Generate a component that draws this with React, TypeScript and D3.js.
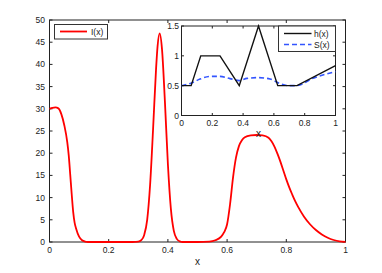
import React from "react";
import * as d3 from "d3";

// Main curve I(x)
const iX = [0, 0.01, 0.02, 0.03, 0.04, 0.05, 0.06, 0.065, 0.07, 0.075, 0.08, 0.085, 0.09, 0.1, 0.11, 0.12, 0.13, 0.2, 0.28,
  0.29, 0.3, 0.31, 0.32, 0.33, 0.34, 0.35, 0.36, 0.365, 0.372, 0.38, 0.39, 0.4, 0.41, 0.42, 0.43, 0.44, 0.45, 0.5,
  0.54, 0.56, 0.58, 0.59, 0.6, 0.61, 0.62, 0.63, 0.64, 0.65, 0.66, 0.68, 0.7, 0.72, 0.74, 0.75, 0.76, 0.77, 0.78, 0.79,
  0.8, 0.81, 0.82, 0.83, 0.84, 0.86, 0.88, 0.9, 0.92, 0.94, 0.96, 0.98, 1.0];
const iY = [30.0, 30.2, 30.3, 30.1, 28.8, 26.3, 22.5, 19.5, 15.2, 10.8, 6.8, 4.3, 3.0, 1.2, 0.4, 0.1, 0, 0, 0,
  0.02, 0.07, 0.4, 1.6, 5, 13, 25.5, 39, 44, 47, 43.5, 31.5, 17.5, 7.5, 2.5, 0.7, 0.15, 0, 0,
  0.1, 0.4, 1.2, 2.2, 4.0, 8.5, 14.5, 19.0, 21.6, 22.9, 23.6, 24.0, 24.1, 24.0, 23.5, 22.7, 21.5, 19.9, 18.1, 16.1,
  14.1, 12.3, 10.7, 9.2, 7.9, 5.7, 4.0, 2.7, 1.7, 0.95, 0.45, 0.15, 0.05];

// Inset h(x)
const hX = [0, 0.0625, 0.125, 0.25, 0.375, 0.5, 0.625, 0.75, 1];
const hY = [0.5, 0.5, 1, 1, 0.5, 1.5, 0.5, 0.5, 0.835];

// Inset S(x)
const sX = [0, 0.065, 0.12, 0.185, 0.25, 0.315, 0.375, 0.425, 0.5, 0.575, 0.64, 0.695, 0.745, 0.86, 1];
const sY = [0.5, 0.545, 0.61, 0.655, 0.655, 0.618, 0.585, 0.622, 0.635, 0.612, 0.535, 0.5, 0.5, 0.63, 0.735];

const mainXTicks = [0, 0.2, 0.4, 0.6, 0.8, 1];
const mainYTicks = [0, 5, 10, 15, 20, 25, 30, 35, 40, 45, 50];
const insetXTicks = [0, 0.2, 0.4, 0.6, 0.8, 1];
const insetYTicks = [0, 0.5, 1, 1.5];

const FONT = "Liberation Sans, Arial, Helvetica, sans-serif";

export default function App() {
  const W = 382, H = 273;
  const x = d3.scaleLinear().domain([0, 1]).range([49.5, 345.5]);
  const y = d3.scaleLinear().domain([0, 50]).range([242, 20]);
  const ix = d3.scaleLinear().domain([0, 1]).range([181.5, 335.5]);
  const iy = d3.scaleLinear().domain([0, 1.5]).range([115.5, 26]);

  const lineI = d3.line<number>().x((_, k) => x(iX[k])).y((d) => y(d)).curve(d3.curveMonotoneX);
  const lineH = d3.line<number>().x((_, k) => ix(hX[k])).y((d) => iy(d));
  const lineS = d3.line<number>().x((_, k) => ix(sX[k])).y((d) => iy(d)).curve(d3.curveMonotoneX);

  const tk = 3;
  const itk = 2.5;
  return (
    <svg width={W} height={H} style={{ position: "absolute", left: 0, top: 0 }} fontFamily={FONT}>
      <rect x={0} y={0} width={W} height={H} fill="#fff" />
      {/* main axes */}
      <rect x={49.5} y={20} width={296} height={222} fill="#fff" stroke="#222" strokeWidth={1} />
      {mainXTicks.map((t) => (
        <g key={"mx" + t}>
          <line x1={x(t)} x2={x(t)} y1={242} y2={242 - tk} stroke="#222" />
          <line x1={x(t)} x2={x(t)} y1={20} y2={20 + tk} stroke="#222" />
          <text x={x(t)} y={253} fontSize={8.5} textAnchor="middle" fill="#222">{String(t)}</text>
        </g>
      ))}
      {mainYTicks.map((t) => (
        <g key={"my" + t}>
          <line x1={49.5} x2={49.5 + tk} y1={y(t)} y2={y(t)} stroke="#222" />
          <line x1={345.5} x2={345.5 - tk} y1={y(t)} y2={y(t)} stroke="#222" />
          <text x={45} y={y(t) + 3} fontSize={8.5} textAnchor="end" fill="#222">{String(t)}</text>
        </g>
      ))}
      <text x={197.5} y={265} fontSize={10} textAnchor="middle" fill="#222">x</text>
      <path d={lineI(iY) || ""} fill="none" stroke="#ff0000" strokeWidth={1.8} />

      {/* main legend */}
      <rect x={54.5} y={24.5} width={53} height={14.5} fill="#fff" stroke="#333" strokeWidth={1} />
      <line x1={60} x2={87} y1={31.5} y2={31.5} stroke="#ff0000" strokeWidth={1.8} />
      <text x={91} y={35} fontSize={8.5} fill="#222">I(x)</text>

      {/* inset axes */}
      <rect x={181.5} y={26} width={154} height={89.5} fill="#fff" stroke="#222" strokeWidth={1} />
      {insetXTicks.map((t) => (
        <g key={"ix" + t}>
          <line x1={ix(t)} x2={ix(t)} y1={115.5} y2={115.5 - itk} stroke="#222" />
          <line x1={ix(t)} x2={ix(t)} y1={26} y2={26 + itk} stroke="#222" />
          <text x={ix(t)} y={126} fontSize={8.5} textAnchor="middle" fill="#222">{String(t)}</text>
        </g>
      ))}
      {insetYTicks.map((t) => (
        <g key={"iy" + t}>
          <line x1={181.5} x2={181.5 + itk} y1={iy(t)} y2={iy(t)} stroke="#222" />
          <line x1={335.5} x2={335.5 - itk} y1={iy(t)} y2={iy(t)} stroke="#222" />
          <text x={179} y={iy(t) + 3} fontSize={8.5} textAnchor="end" fill="#222">{String(t)}</text>
        </g>
      ))}
      <text x={258.5} y={137} fontSize={10} textAnchor="middle" fill="#222">x</text>
      <path d={lineS(sY) || ""} fill="none" stroke="#3355ff" strokeWidth={1.6} strokeDasharray="5,3" />
      <path d={lineH(hY) || ""} fill="none" stroke="#111" strokeWidth={1.4} />

      {/* inset legend */}
      <rect x={278.5} y={26} width={57} height={25.5} fill="#fff" stroke="#333" strokeWidth={1} />
      <line x1={284} x2={311.5} y1={33.5} y2={33.5} stroke="#111" strokeWidth={1.4} />
      <text x={314} y={37} fontSize={8.5} fill="#222">h(x)</text>
      <line x1={284} x2={311.5} y1={44.5} y2={44.5} stroke="#3355ff" strokeWidth={1.6} strokeDasharray="5,3" />
      <text x={314} y={48} fontSize={8.5} fill="#222">S(x)</text>
    </svg>
  );
}
